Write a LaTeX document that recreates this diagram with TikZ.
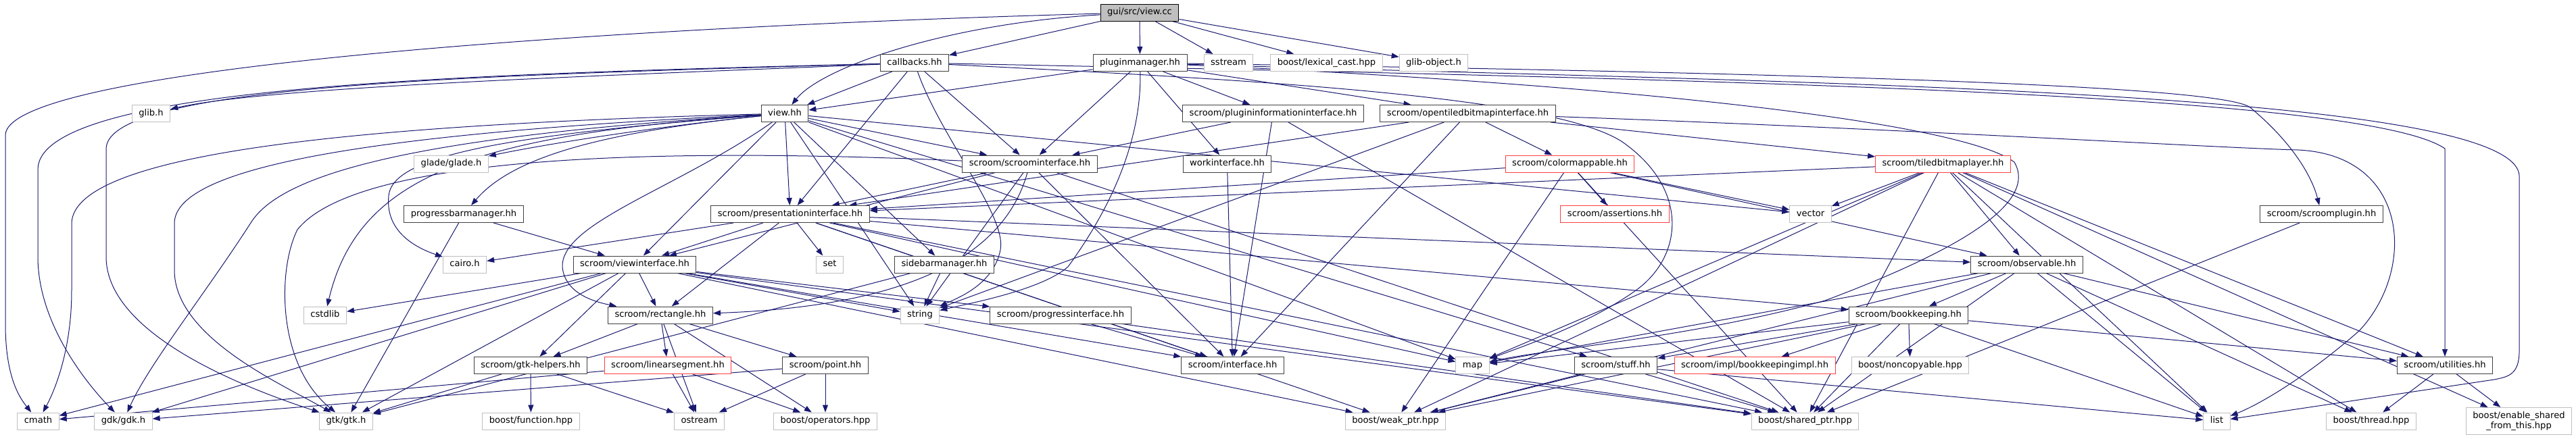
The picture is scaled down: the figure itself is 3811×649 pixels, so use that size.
\documentclass[tikz,border=0pt]{standalone}
\usepackage{fontspec}
\setmainfont{DejaVu Sans}
\usetikzlibrary{arrows.meta}
\definecolor{edgec}{HTML}{191970}
\definecolor{nbord}{HTML}{404040}
\definecolor{gbord}{HTML}{BFBFBF}
\definecolor{rbord}{HTML}{FF4040}
\definecolor{rootfill}{HTML}{BFBFBF}
\pgfdeclarelayer{back}
\pgfdeclarelayer{bg}
\pgfsetlayers{back,bg,main}
\tikzset{
  base/.style={fill=white, line width=1pt, inner xsep=10pt, inner ysep=0pt, minimum height=25pt, font=\fontsize{13.1}{15.5}\selectfont},
  nd/.style={base, draw=nbord, text height=9.8pt, text depth=2.9pt},
  gr/.style={base, draw=gbord, text height=9.8pt, text depth=2.9pt},
  rd/.style={base, draw=rbord, text height=9.8pt, text depth=2.9pt},
  rt/.style={base, draw=black, fill=rootfill, text height=9.8pt, text depth=2.9pt},
  ed/.style={draw=edgec, line width=1pt, -{Triangle[length=11pt,width=8pt]}}
}
\begin{document}
\begin{tikzpicture}[x=1pt,y=-1pt]
\useasboundingbox (0,0) rectangle (3811,649);
\begin{pgfonlayer}{back}
\fill[white] (0,0) rectangle (3811,649);
\end{pgfonlayer}
% row 0
\node[rt] (viewcc) at (1686,18.5) {gui/src/view.cc};
% row 1
\node[nd] (callbacks) at (1353,93) {callbacks.hh};
\node[nd] (pluginmgr) at (1686.5,93) {pluginmanager.hh};
\node[gr] (sstream) at (1817.5,93) {sstream};
\node[gr] (lexcast) at (1962.5,93) {boost/lexical\_cast.hpp};
\node[gr] (glibobj) at (2121,93) {glib-object.h};
% row 2
\node[gr] (glibh) at (223.5,168) {glib.h};
\node[nd] (viewhh) at (1161,168) {view.hh};
\node[nd] (plugininfo) at (1883.5,168) {scroom/plugininformationinterface.hh};
\node[nd] (opentiled) at (2171.5,168) {scroom/opentiledbitmapinterface.hh};
% row 3
\node[gr] (glade) at (667.5,242.5) {glade/glade.h};
\node[nd] (scroomif) at (1523.5,242.5) {scroom/scroominterface.hh};
\node[nd] (workif) at (1815.5,242.5) {workinterface.hh};
\node[rd] (colormappable) at (2322.5,242.5) {scroom/colormappable.hh};
\node[rd] (tiledbitmap) at (2874.5,242.5) {scroom/tiledbitmaplayer.hh};
% row 4
\node[nd] (progressbar) at (686,317) {progressbarmanager.hh};
\node[nd] (presif) at (1169,317) {scroom/presentationinterface.hh};
\node[rd] (assertions) at (2389,317) {scroom/assertions.hh};
\node[gr] (vector) at (2678.5,317) {vector};
\node[nd] (scroomplugin) at (3434.5,317) {scroom/scroomplugin.hh};
% row 5
\node[gr] (cairo) at (687.5,391.5) {cairo.h};
\node[nd] (viewif) at (939,391.5) {scroom/viewinterface.hh};
\node[gr] (set) at (1227.5,391.5) {set};
\node[nd] (sidebar) at (1397,391.5) {sidebarmanager.hh};
\node[nd] (observable) at (2998.5,391.5) {scroom/observable.hh};
% row 6
\node[gr] (cstdlib) at (481,466.5) {cstdlib};
\node[nd] (rectangle) at (977,466.5) {scroom/rectangle.hh};
\node[gr] (string) at (1361,466.5) {string};
\node[nd] (progressif) at (1569,466.5) {scroom/progressinterface.hh};
\node[nd] (bookkeeping) at (2823.5,466.5) {scroom/bookkeeping.hh};
% row 7
\node[nd] (gtkhelpers) at (785,541) {scroom/gtk-helpers.hh};
\node[rd] (linearsegment) at (988,541) {scroom/linearsegment.hh};
\node[nd] (point) at (1221,541) {scroom/point.hh};
\node[nd] (interface) at (1823.5,541) {scroom/interface.hh};
\node[gr] (map) at (2178.5,541) {map};
\node[nd] (stuff) at (2390.5,541) {scroom/stuff.hh};
\node[rd] (bkimpl) at (2596,541) {scroom/impl/bookkeepingimpl.hh};
\node[gr] (noncopyable) at (2826,541) {boost/noncopyable.hpp};
\node[nd] (utilities) at (3617,541) {scroom/utilities.hh};
% row 8
\node[gr] (cmath) at (56.5,623.5) {cmath};
\node[gr] (gdk) at (182.5,623.5) {gdk/gdk.h};
\node[gr] (gtk) at (512,623.5) {gtk/gtk.h};
\node[gr] (function) at (785.5,623.5) {boost/function.hpp};
\node[gr] (ostream) at (1034.5,623.5) {ostream};
\node[gr] (operators) at (1221,623.5) {boost/operators.hpp};
\node[gr] (weakptr) at (2064.5,623.5) {boost/weak\_ptr.hpp};
\node[gr] (sharedptr) at (2670.5,623.5) {boost/shared\_ptr.hpp};
\node[gr] (list) at (3279.5,623.5) {list};
\node[gr] (thread) at (3508,623.5) {boost/thread.hpp};
\node[base, draw=gbord, align=center, minimum height=40pt] (enable) at (3726.5,623.5) {boost/enable\_shared\\\_from\_this.hpp};

\begin{pgfonlayer}{bg}
\foreach \a/\b in {viewcc/callbacks, viewcc/pluginmgr, viewcc/sstream, viewcc/lexcast, viewcc/glibobj,
  callbacks/viewhh, callbacks/scroomif, callbacks/presif,
  pluginmgr/viewhh, pluginmgr/scroomif, pluginmgr/plugininfo, pluginmgr/workif, pluginmgr/opentiled,
  viewhh/presif, viewhh/scroomif, viewhh/viewif, viewhh/sidebar, viewhh/string, viewhh/vector, viewhh/stuff, viewhh/map,
  plugininfo/scroomif, plugininfo/interface, plugininfo/sharedptr,
  opentiled/colormappable, opentiled/tiledbitmap, opentiled/presif, opentiled/interface, opentiled/string,
  scroomif/presif, scroomif/viewif, scroomif/string, scroomif/interface, scroomif/sharedptr,
  workif/interface,
  colormappable/presif, colormappable/vector, colormappable/assertions, colormappable/observable, colormappable/sharedptr, colormappable/weakptr,
  tiledbitmap/presif, tiledbitmap/vector, tiledbitmap/observable, tiledbitmap/map, tiledbitmap/list, tiledbitmap/thread, tiledbitmap/sharedptr, tiledbitmap/weakptr, tiledbitmap/enable, tiledbitmap/utilities,
  progressbar/viewif, progressbar/gtk,
  presif/cairo, presif/viewif, presif/rectangle, presif/set, presif/map, presif/observable, presif/interface, presif/sharedptr, presif/weakptr, presif/bookkeeping,
  viewif/gtk, viewif/gdk, viewif/cmath, viewif/cstdlib, viewif/rectangle, viewif/gtkhelpers, viewif/progressif, viewif/interface, viewif/sharedptr, viewif/weakptr, viewif/string,
  sidebar/string, sidebar/gtk,
  observable/bookkeeping, observable/list, observable/map, observable/sharedptr, observable/weakptr, observable/thread, observable/utilities,
  bookkeeping/bkimpl, bookkeeping/noncopyable, bookkeeping/map, bookkeeping/list, bookkeeping/sharedptr, bookkeeping/weakptr, bookkeeping/utilities, bookkeeping/stuff,
  stuff/weakptr, stuff/sharedptr, stuff/list,
  rectangle/gtkhelpers, rectangle/linearsegment, rectangle/point, rectangle/ostream, rectangle/operators,
  gtkhelpers/gtk, gtkhelpers/function, gtkhelpers/ostream,
  linearsegment/cmath, linearsegment/ostream, linearsegment/operators,
  point/gdk, point/ostream, point/operators,
  progressif/interface, progressif/sharedptr,
  scroomplugin/sharedptr,
  utilities/thread, utilities/enable}
  \draw[ed] (\a) -- (\b);
% routed edges
\draw[ed] (viewcc) .. controls (1400,35) and (1215,100) .. (viewhh);
\draw[ed] (viewcc) .. controls (900,40) and (10,100) .. (8,200) -- (8,480) .. controls (8,560) and (30,590) .. (cmath);
\draw[ed] (callbacks) .. controls (900,112) and (400,128) .. (glibh);
\draw[ed] (callbacks) .. controls (700,110) and (60,125) .. (56,250) -- (56,380) .. controls (56,480) and (130,570) .. (gdk);
\draw[ed] (callbacks) .. controls (700,112) and (160,125) .. (157,220) -- (157,380) .. controls (157,500) and (380,580) .. (gtk);
\draw[ed] (viewhh) .. controls (500,185) and (110,230) .. (106,330) -- (106,430) .. controls (106,520) and (80,580) .. (cmath);
\draw[ed] (viewhh) .. controls (600,195) and (260,240) .. (258,330) -- (258,400) .. controls (258,500) and (420,570) .. (gtk);
\draw[ed] (viewhh) .. controls (650,200) and (420,250) .. (371,330) .. controls (300,440) and (220,540) .. (gdk);
\draw[ed] (scroomif) .. controls (900,215) and (520,240) .. (440,340) .. controls (410,400) and (410,540) .. (gtk);
\draw[ed] (viewhh) .. controls (700,200) and (530,260) .. (cstdlib);
\draw[ed] (viewhh) .. controls (750,200) and (580,230) .. (575,290) .. controls (570,340) and (610,365) .. (cairo);
\draw[ed] (viewhh) .. controls (950,190) and (800,215) .. (glade);
\draw[ed] (viewhh) .. controls (900,195) and (760,230) .. (progressbar);
\draw[ed] (callbacks) .. controls (1390,200) and (1490,320) .. (1480,370) .. controls (1470,420) and (1420,440) .. (string);
\draw[ed] (pluginmgr) .. controls (1690,230) and (1620,340) .. (1580,395) .. controls (1540,430) and (1430,450) .. (string);
\draw[ed] (callbacks) .. controls (2600,118) and (3500,140) .. (3617,220) -- (utilities);
\draw[ed] (pluginmgr) .. controls (2600,122) and (3720,130) .. (3727,260) -- (3727,520) .. controls (3727,555) and (3710,558) .. (3690,562) -- (list);
\draw[ed] (pluginmgr) .. controls (2800,110) and (3300,130) .. (3330,160) .. controls (3390,210) and (3420,260) .. (scroomplugin);
\draw[ed] (opentiled) .. controls (2800,190) and (3300,220) .. (3400,222) .. controls (3565,230) and (3575,400) .. (3490,490) .. controls (3410,560) and (3340,600) .. (list);
\draw[ed] (pluginmgr) .. controls (2400,125) and (2900,180) .. (2980,240) .. controls (3015,300) and (2900,370) .. (2700,445) .. controls (2500,500) and (2300,515) .. (map);
\draw[ed] (callbacks) .. controls (1900,120) and (2300,145) .. (2400,210) .. controls (2500,280) and (2490,380) .. (2420,430) .. controls (2350,480) and (2260,510) .. (map);
\draw[ed] (viewhh) .. controls (1000,280) and (830,330) .. (832,395) .. controls (835,430) and (870,445) .. (rectangle);
\draw[ed] (scroomif) .. controls (1480,400) and (1300,455) .. (rectangle);
\end{pgfonlayer}
\end{tikzpicture}
\end{document}
